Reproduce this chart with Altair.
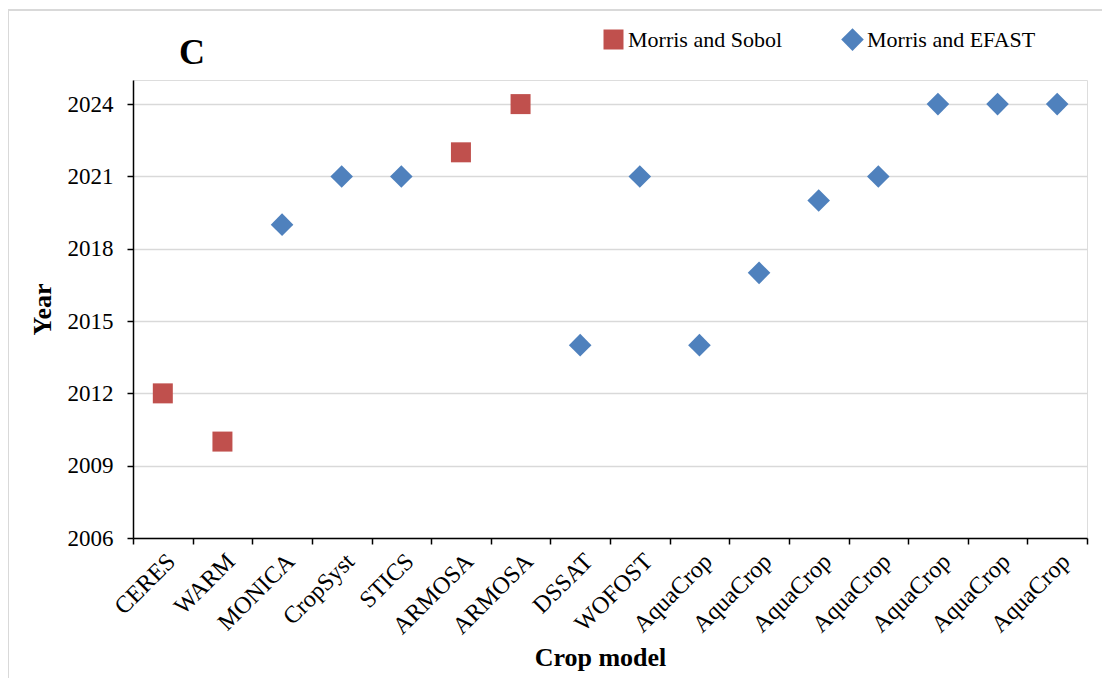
import altair as alt
import pandas as pd

models = ["CERES", "WARM", "MONICA", "CropSyst", "STICS", "ARMOSA", "ARMOSA", "DSSAT",
          "WOFOST", "AquaCrop", "AquaCrop", "AquaCrop", "AquaCrop", "AquaCrop", "AquaCrop", "AquaCrop"]
years = [2012, 2010, 2019, 2021, 2021, 2022, 2024, 2014,
         2021, 2014, 2017, 2020, 2021, 2024, 2024, 2024]
methods = ["Morris and Sobol", "Morris and Sobol", "Morris and EFAST", "Morris and EFAST",
           "Morris and EFAST", "Morris and Sobol", "Morris and Sobol", "Morris and EFAST",
           "Morris and EFAST", "Morris and EFAST", "Morris and EFAST", "Morris and EFAST",
           "Morris and EFAST", "Morris and EFAST", "Morris and EFAST", "Morris and EFAST"]
series = ["Morris and Sobol", "Morris and EFAST"]
colors = ["#C0504D", "#4F81BD"]
shapes = ["square", "diamond"]
y_ticks = [2006, 2009, 2012, 2015, 2018, 2021, 2024]

df = pd.DataFrame({"idx": list(range(len(models))), "model": models, "year": years, "method": methods})

label_expr = "[" + ",".join("'" + m + "'" for m in models) + "][datum.value]"
FONT = "Liberation Serif"

points = alt.Chart(df).mark_point(filled=True, opacity=1).encode(
    x=alt.X("idx:O", title="Crop model",
            scale=alt.Scale(paddingInner=0, paddingOuter=0),
            axis=alt.Axis(labelExpr=label_expr, labelAngle=-45, tickBand="extent",
                          labelFont=FONT, labelFontSize=24, labelColor="black",
                          labelPadding=5, tickSize=6, tickColor="black", tickWidth=1.5,
                          domainColor="black", domainWidth=1.5, grid=False, labelLimit=0,
                          titleFont=FONT, titleFontSize=26, titleFontWeight="bold",
                          titleColor="black", titlePadding=6, titleX=467)),
    y=alt.Y("year:Q", title="Year",
            scale=alt.Scale(domain=[2006, 2025], nice=False, zero=False),
            axis=alt.Axis(values=y_ticks, format="d", labelFont=FONT, labelFontSize=23,
                          labelColor="black", labelPadding=14, tickSize=6, tickColor="black",
                          tickWidth=1.5, domainColor="black", domainWidth=1.5,
                          grid=True, gridColor="#D9D9D9", gridWidth=1.5,
                          titleFont=FONT, titleFontSize=26, titleFontWeight="bold",
                          titleColor="black", titlePadding=12)),
    color=alt.Color("method:N", scale=alt.Scale(domain=series, range=colors),
                    legend=alt.Legend(title=None, orient="none", legendX=469, legendY=-52,
                                      direction="horizontal", columns=2, columnPadding=59,
                                      labelFont=FONT, labelFontSize=22, labelColor="black",
                                      labelOffset=3, symbolSize=300, symbolStrokeWidth=0,
                                      labelLimit=0, padding=0)),
    shape=alt.Shape("method:N", scale=alt.Scale(domain=series, range=shapes)),
    size=alt.Size("method:N", scale=alt.Scale(domain=series, range=[400, 510]), legend=None),
)

frame_data = alt.Data(values=[{"a": 1}])
left_edge = alt.Chart(frame_data).mark_rule(color="#D9D9D9", strokeWidth=2).encode(
    x=alt.value(-125), y=alt.value(-70), y2=alt.value(620))
top_edge = alt.Chart(frame_data).mark_rule(color="#D9D9D9", strokeWidth=2).encode(
    x=alt.value(-125), x2=alt.value(1000), y=alt.value(-70))
panel = alt.Chart(frame_data).mark_text(text="C", font=FONT, fontSize=36, fontWeight="bold",
                                        align="left", baseline="alphabetic", color="black").encode(
    x=alt.value(46), y=alt.value(-16))

chart = alt.layer(left_edge, top_edge, points, panel).properties(
    width=954, height=458,
    autosize=alt.AutoSizeParams(type="none"),
    padding={"left": 125, "top": 72, "right": 15, "bottom": 140},
).configure_view(strokeWidth=0).configure(background="white")

chart.save("out.html", embed_options={"renderer": "svg", "actions": False})
